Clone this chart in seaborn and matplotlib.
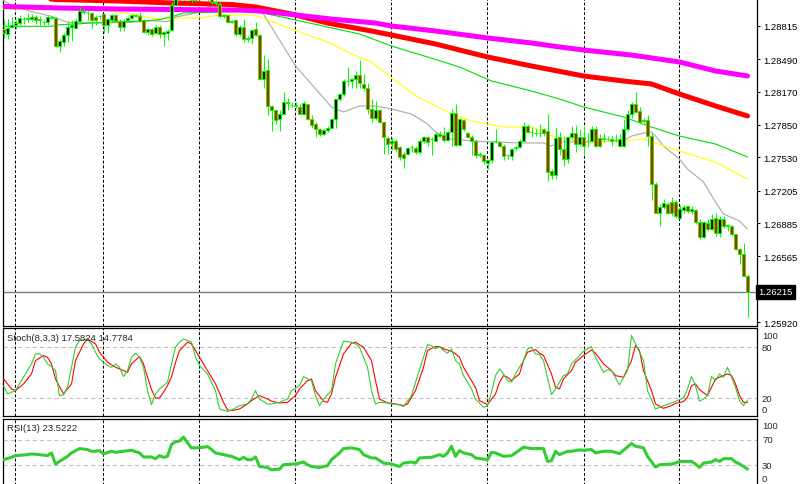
import matplotlib
matplotlib.use("Agg")
import matplotlib.pyplot as plt
import matplotlib.transforms as mtransforms
import numpy as np
import pandas as pd
import seaborn as sns

# ---------------- data ----------------
open_ = [1.2879,1.2874,1.2881,1.2882,1.2884,1.2888,1.2888,1.2888,1.2890,1.2887,
         1.2885,1.2885,1.2890,1.2889,1.2862,1.2866,1.2873,1.2881,1.2880,1.2886,
         1.2895,1.2895,1.2894,1.2890,1.2891,1.2893,1.2882,1.2887,1.2892,1.2886,
         1.2881,1.2887,1.2889,1.2892,1.2891,1.2887,1.2876,1.2879,1.2875,1.2881,
         1.2874,1.2875,1.2878,1.2902,1.2910,1.2912,1.2910,1.2908,1.2907,1.2909,
         1.2911,1.2910,1.2908,1.2905,1.2903,1.2891,1.2892,1.2885,1.2887,1.2874,
         1.2881,1.2869,1.2870,1.2879,1.2873,1.2830,1.2838,1.2803,1.2799,1.2791,
         1.2795,1.2807,1.2804,1.2804,1.2802,1.2795,1.2805,1.2791,1.2786,1.2781,
         1.2776,1.2780,1.2782,1.2791,1.2810,1.2815,1.2828,1.2828,1.2830,1.2834,
         1.2825,1.2821,1.2800,1.2792,1.2799,1.2788,1.2772,1.2767,1.2769,1.2763,
         1.2756,1.2756,1.2763,1.2762,1.2758,1.2769,1.2773,1.2771,1.2769,1.2776,
         1.2775,1.2770,1.2778,1.2796,1.2765,1.2790,1.2777,1.2773,1.2769,1.2755,
         1.2755,1.2748,1.2750,1.2769,1.2768,1.2764,1.2755,1.2754,1.2762,1.2763,
         1.2769,1.2784,1.2778,1.2777,1.2777,1.2781,1.2779,1.2740,1.2736,1.2773,
         1.2761,1.2751,1.2773,1.2777,1.2766,1.2773,1.2769,1.2769,1.2781,1.2772,
         1.2771,1.2771,1.2771,1.2770,1.2764,1.2764,1.2781,1.2795,1.2805,1.2798,
         1.2789,1.2790,1.2774,1.2727,1.2699,1.2704,1.2707,1.2709,1.2709,1.2694,
         1.2702,1.2705,1.2701,1.2702,1.2690,1.2675,1.2689,1.2683,1.2694,1.2679,
         1.2693,1.2686,1.2686,1.2678,1.2663,1.2659,1.2637]
high_ = [1.2887,1.2888,1.2890,1.2887,1.2892,1.2890,1.2894,1.2893,1.2892,1.2891,
         1.2887,1.2892,1.2891,1.2890,1.2869,1.2875,1.2886,1.2887,1.2888,1.2900,
         1.2898,1.2896,1.2895,1.2892,1.2892,1.2894,1.2889,1.2893,1.2893,1.2888,
         1.2888,1.2890,1.2893,1.2893,1.2895,1.2888,1.2880,1.2880,1.2882,1.2882,
         1.2877,1.2879,1.2905,1.2913,1.2916,1.2915,1.2912,1.2911,1.2912,1.2914,
         1.2913,1.2912,1.2910,1.2907,1.2906,1.2893,1.2892,1.2887,1.2888,1.2882,
         1.2888,1.2872,1.2879,1.2885,1.2874,1.2853,1.2849,1.2804,1.2799,1.2799,
         1.2817,1.2811,1.2807,1.2807,1.2805,1.2808,1.2805,1.2794,1.2788,1.2782,
         1.2781,1.2784,1.2792,1.2810,1.2816,1.2830,1.2841,1.2831,1.2837,1.2848,
         1.2835,1.2826,1.2810,1.2808,1.2800,1.2789,1.2774,1.2773,1.2771,1.2764,
         1.2758,1.2763,1.2765,1.2764,1.2771,1.2774,1.2774,1.2773,1.2778,1.2779,
         1.2783,1.2779,1.2800,1.2805,1.2792,1.2791,1.2778,1.2775,1.2771,1.2758,
         1.2756,1.2751,1.2769,1.2781,1.2769,1.2766,1.2756,1.2762,1.2764,1.2771,
         1.2788,1.2786,1.2783,1.2781,1.2786,1.2782,1.2795,1.2742,1.2782,1.2778,
         1.2774,1.2774,1.2784,1.2785,1.2781,1.2784,1.2777,1.2784,1.2784,1.2776,
         1.2777,1.2774,1.2774,1.2776,1.2776,1.2791,1.2799,1.2807,1.2817,1.2802,
         1.2792,1.2794,1.2777,1.2729,1.2707,1.2712,1.2709,1.2714,1.2711,1.2706,
         1.2706,1.2706,1.2705,1.2703,1.2693,1.2691,1.2693,1.2698,1.2699,1.2696,
         1.2696,1.2688,1.2687,1.2678,1.2664,1.2669,1.2639]
low_ = [1.2870,1.2869,1.2880,1.2879,1.2882,1.2883,1.2885,1.2886,1.2883,1.2882,
        1.2882,1.2882,1.2888,1.2861,1.2856,1.2862,1.2866,1.2867,1.2879,1.2883,
        1.2893,1.2887,1.2880,1.2882,1.2888,1.2875,1.2875,1.2885,1.2885,1.2877,
        1.2877,1.2885,1.2888,1.2890,1.2885,1.2875,1.2873,1.2872,1.2874,1.2870,
        1.2862,1.2868,1.2877,1.2901,1.2906,1.2907,1.2906,1.2905,1.2906,1.2907,
        1.2908,1.2906,1.2903,1.2902,1.2889,1.2889,1.2884,1.2884,1.2872,1.2872,
        1.2866,1.2866,1.2864,1.2872,1.2829,1.2821,1.2794,1.2779,1.2786,1.2779,
        1.2794,1.2799,1.2802,1.2801,1.2795,1.2794,1.2790,1.2782,1.2773,1.2774,
        1.2775,1.2778,1.2781,1.2782,1.2808,1.2813,1.2823,1.2821,1.2821,1.2821,
        1.2818,1.2795,1.2788,1.2790,1.2787,1.2756,1.2756,1.2760,1.2758,1.2750,
        1.2743,1.2755,1.2758,1.2756,1.2756,1.2767,1.2764,1.2755,1.2768,1.2773,
        1.2768,1.2769,1.2764,1.2764,1.2764,1.2779,1.2772,1.2755,1.2752,1.2753,
        1.2747,1.2742,1.2748,1.2767,1.2763,1.2750,1.2751,1.2750,1.2760,1.2762,
        1.2769,1.2777,1.2773,1.2774,1.2773,1.2774,1.2730,1.2732,1.2732,1.2755,
        1.2745,1.2748,1.2771,1.2758,1.2764,1.2755,1.2763,1.2768,1.2763,1.2763,
        1.2768,1.2769,1.2764,1.2768,1.2763,1.2763,1.2779,1.2792,1.2797,1.2787,
        1.2787,1.2764,1.2711,1.2699,1.2686,1.2703,1.2698,1.2696,1.2694,1.2693,
        1.2699,1.2699,1.2698,1.2688,1.2673,1.2674,1.2681,1.2682,1.2676,1.2675,
        1.2684,1.2681,1.2676,1.2662,1.2649,1.2637,1.2597]
close_ = [1.2875,1.2880,1.2882,1.2884,1.2889,1.2888,1.2889,1.2890,1.2887,1.2888,
          1.2885,1.2890,1.2889,1.2862,1.2867,1.2873,1.2881,1.2882,1.2886,1.2896,
          1.2896,1.2895,1.2887,1.2887,1.2891,1.2882,1.2888,1.2892,1.2886,1.2881,
          1.2886,1.2889,1.2892,1.2891,1.2886,1.2876,1.2879,1.2874,1.2881,1.2874,
          1.2876,1.2877,1.2902,1.2910,1.2912,1.2910,1.2908,1.2907,1.2909,1.2911,
          1.2910,1.2908,1.2905,1.2904,1.2891,1.2892,1.2885,1.2886,1.2874,1.2881,
          1.2869,1.2870,1.2878,1.2873,1.2830,1.2837,1.2803,1.2799,1.2790,1.2795,
          1.2807,1.2806,1.2804,1.2803,1.2795,1.2806,1.2791,1.2785,1.2781,1.2776,
          1.2780,1.2782,1.2791,1.2810,1.2815,1.2828,1.2828,1.2830,1.2834,1.2826,
          1.2821,1.2800,1.2792,1.2799,1.2788,1.2773,1.2766,1.2769,1.2761,1.2753,
          1.2752,1.2762,1.2763,1.2758,1.2769,1.2773,1.2768,1.2771,1.2776,1.2774,
          1.2770,1.2778,1.2796,1.2765,1.2791,1.2781,1.2773,1.2769,1.2755,1.2756,
          1.2749,1.2750,1.2768,1.2769,1.2764,1.2754,1.2755,1.2761,1.2763,1.2769,
          1.2784,1.2778,1.2778,1.2777,1.2777,1.2777,1.2739,1.2736,1.2772,1.2761,
          1.2751,1.2773,1.2777,1.2766,1.2773,1.2764,1.2769,1.2781,1.2764,1.2764,
          1.2772,1.2771,1.2769,1.2770,1.2771,1.2781,1.2795,1.2805,1.2797,1.2788,
          1.2790,1.2774,1.2727,1.2699,1.2704,1.2708,1.2699,1.2699,1.2696,1.2703,
          1.2704,1.2701,1.2703,1.2690,1.2675,1.2690,1.2683,1.2693,1.2679,1.2693,
          1.2686,1.2687,1.2678,1.2663,1.2659,1.2637,1.26215]

# moving averages (read at selected candles)
ma_magenta_idx = [0,14,29,44,59,64,73,82,93,97,108,121,132,139,145,157,169,178,186]
ma_magenta_val = [1.29006,1.28991,1.28981,1.28976,1.28971,1.28962,1.28923,1.28883,1.28844,1.28815,
                  1.28766,1.28698,1.28649,1.28610,1.28580,1.28531,1.28463,1.28375,1.28326]
ma_red_idx = [0,13,29,42,57,63,72,81,92,97,108,121,132,145,155,162,169,178,186]
ma_red_val = [1.29128,1.29074,1.29059,1.29040,1.29025,1.29001,1.28932,1.28844,1.28766,1.28727,
              1.28639,1.28512,1.28424,1.28326,1.28277,1.28248,1.28150,1.28033,1.27935]
ma_green_idx = [0,12,13,18,24,35,39,43,45,54,63,72,81,89,97,106,114,122,132,139,145,155,162,169,178,186]
ma_green_val = [1.28812,1.28812,1.28825,1.28835,1.28849,1.28864,1.28877,1.28916,1.28942,1.28952,
                1.28957,1.28883,1.28805,1.28737,1.28619,1.28512,1.28414,1.28277,1.28179,1.28101,
                1.28023,1.27925,1.27827,1.27739,1.27661,1.27534]
ma_yellow_idx = [0,8,12,14,18,24,28,32,35,39,45,49,54,62,64,72,81,87,92,97,104,112,117,125,132,
                 139,146,155,160,163,169,178,186]
ma_yellow_val = [1.28981,1.28981,1.28996,1.29001,1.28981,1.28971,1.28952,1.28937,1.28903,1.28883,
                 1.28893,1.28893,1.28923,1.28923,1.28903,1.28786,1.28658,1.28541,1.28463,1.28306,
                 1.28111,1.27954,1.27886,1.27827,1.27827,1.27710,1.27681,1.27690,1.27710,1.27671,
                 1.27592,1.27485,1.27319]
ma_gray_idx = [0,2,7,12,16,24,32,37,41,43,47,49,52,57,64,65,73,82,85,89,93,97,102,106,108,112,117,
               129,135,137,139,146,155,157,160,162,163,165,169,171,175,178,180,184,186]
ma_gray_val = [1.29062,1.29020,1.28955,1.28910,1.28851,1.28844,1.28851,1.28867,1.28857,1.28903,
               1.28932,1.28962,1.29011,1.29011,1.28981,1.28932,1.28424,1.28023,1.27974,1.28033,
               1.28033,1.28003,1.27954,1.27857,1.27778,1.27710,1.27690,1.27671,1.27671,1.27641,
               1.27681,1.27681,1.27690,1.27739,1.27768,1.27778,1.27739,1.27641,1.27514,1.27416,
               1.27289,1.27094,1.26976,1.26908,1.26829]

# Stochastic (8,3,3)
stoch_k_idx = [0,1,3,5,7,8,9,10,11,12,13,14,15,16,17,18,19,21,22,23,24,26,27,28,29,30,31,32,33,34,
               35,36,37,38,39,41,42,43,44,45,47,48,49,51,53,54,56,57,59,61,62,63,64,66,67,69,71,72,74,75,
               77,78,79,80,82,83,85,87,88,89,91,92,93,94,96,97,99,100,102,103,105,106,107,108,109,110,111,112,113,114,
               115,117,118,120,121,122,123,124,125,126,127,128,130,131,132,133,134,135,137,138,140,141,142,144,145,147,148,150,151,152,
               154,156,157,158,160,161,163,165,167,168,170,171,172,173,174,175,176,177,178,179,180,181,182,183,184,185,186]
stoch_k_val = [34.7,24.9,28.8,44.6,60.4,72.2,72.2,68.2,60.4,57.2,52.5,22.9,23.7,32.7,56.4,80.1,88,89.9,84,74.2,
               66.3,58.4,56.4,60.4,56.4,45.4,52.5,68.2,73,68.2,56.4,28.8,12.2,24.9,30.8,38.7,60,80,86,89.9,
               86,68.2,58.4,48.5,28.8,7.1,4.3,5.9,11,13,18.9,28.8,18.9,13,13,15,18.9,28.8,34.7,45.4,
               40.6,22.9,11,18.9,28.8,60.4,87.2,86,84,80.1,56.4,28.8,13,15,14.2,13,12,9.9,22.9,38.7,
               68.2,83.2,82,78.1,80.9,76.1,73,78.1,64.3,60.4,46.5,30.8,18.9,9.1,11,26.8,46.5,54.4,48.5,40.6,
               38.7,48.5,64.3,78.1,80.1,72.2,71.4,64.3,24.1,30.8,46.5,48.5,60.4,70.2,75.3,80.9,68.2,50.5,53.3,52.5,
               35.5,52.5,93.9,84,64.3,28.8,7.1,11,14.2,16.2,20.1,30.8,45.4,34.7,16.2,18.9,22.9,45.4,40.6,48.5,
               44.6,56.4,44.6,32.7,17,11,17.5824]
stoch_d_idx = [0,2,3,5,7,8,10,11,12,13,15,17,18,20,21,23,24,26,28,29,31,32,34,35,36,37,38,39,40,41,
               42,43,44,46,47,49,51,53,55,56,57,59,61,62,64,66,67,69,71,73,74,76,77,78,80,81,82,83,85,87,
               88,90,92,93,94,96,97,99,100,101,103,105,106,108,109,110,112,113,114,115,116,118,119,121,123,124,125,126,127,129,
               130,131,133,134,135,137,138,139,140,142,143,145,147,148,150,152,153,155,157,158,159,160,162,163,165,167,168,170,171,172,
               173,174,176,177,178,180,181,182,183,184,185,186]
stoch_d_val = [42.6,30.8,28.8,36.7,48.5,64.3,70.2,68.2,60.4,42.6,24.9,36.7,64.3,84,89.9,84,74.2,62.3,56.4,54.4,
               50.5,60.4,69,60.4,44.6,30,20,20.1,26.8,34.7,45,62,76.1,86,84,68.2,52.5,36.7,15,5.9,
               5.1,7.1,13,17,22.9,18.9,16.2,14.2,15,22.9,30.8,40.6,42.6,28.8,16.2,15,24.9,44.6,72.2,84.8,
               86,80.1,64.3,40.6,18.9,14.2,13.8,12.2,11,13,28.8,56.4,76.1,80.9,80.9,78.1,75.3,72.2,68.2,56.4,
               48.5,32.7,17,12.2,24.9,38.7,46.5,44.6,40.6,48.5,64.3,74.2,77.3,73,70.2,48.5,32.7,30.8,42.6,52.5,
               62.3,70.2,76.9,73,60.4,52.5,46.5,44.6,64.3,82,76.1,52.5,28.8,13,7.9,11,13.8,15.8,20.9,34.7,
               36.7,30,22.9,32.7,42.6,46.5,48.5,46.5,36.7,22.9,15,14.7784]

# RSI (13)
rsi_idx = [0,2,3,6,7,9,11,12,13,14,16,17,19,21,22,23,24,25,27,28,30,32,34,35,37,38,39,40,41,42,
           43,44,45,46,47,48,50,51,52,53,55,57,59,60,61,62,63,64,66,67,69,70,72,73,75,76,77,79,81,82,
           84,85,87,89,90,92,93,95,97,99,100,102,103,104,106,107,109,110,111,112,113,114,115,117,118,121,122,123,125,127,
           128,130,132,135,136,137,138,139,141,142,144,145,147,148,150,152,154,155,157,158,160,161,163,164,167,168,169,172,173,174,
           175,177,178,179,180,182,183,184,185,186]
rsi_val = [38.4,42.1,44.8,46.4,47.5,46.4,44.8,49.1,31.5,35.7,43.7,49.1,56,54.4,51.7,51.7,52.8,47.5,51.7,50.1,
           51.7,53.3,49.1,42.7,42.7,40,44.8,42.1,43.7,62.4,66.7,67.7,74.1,65.1,57.1,57.1,58.1,59.2,54.4,49.1,
           46.4,43.7,38.4,42.1,38.4,38.4,42.7,27.7,26.1,22.4,23.5,30.4,31.5,31.5,34.7,30.4,27.7,26.1,28.8,38.4,
           49.1,56,57.1,54.4,46.4,41.1,41.1,33.1,31.5,27.7,33.1,34.7,33.1,41.1,42.1,42.1,46.4,43.7,49.1,59.7,
           43.7,52.8,49.1,46.4,41.1,38.4,50.1,49.1,43.7,44.8,49.1,58.1,56,56,35.7,36.8,51.7,46.4,51.7,51.7,
           53.9,53.3,54.4,49.1,51.7,51.7,48,53.3,64,59.7,57.1,43.7,26.7,30.4,31.5,33.1,35.7,35.7,31.5,26.1,
           33.1,34.7,38.4,35.7,40,40,34.7,31.5,28,23.5222]

session_breaks = [2.875, 24.875, 48.875, 72.875, 96.875, 120.875, 145.0, 168.875]
price_ticks = [1.28815, 1.28490, 1.28170, 1.27850, 1.27530, 1.27205, 1.26885, 1.26565, 1.25920]
last_price = 1.26215
stoch_label = "Stoch(8,3,3) 17.5824 14.7784"
rsi_label = "RSI(13) 23.5222"

assert len(open_) == len(high_) == len(low_) == len(close_)
assert len(stoch_k_idx) == len(stoch_k_val)
assert len(stoch_d_idx) == len(stoch_d_val)
assert len(rsi_idx) == len(rsi_val)

# ---------------- figure ----------------
sns.set_style("white")
plt.rcParams['font.family'] = ['Liberation Sans', 'DejaVu Sans']
FS = 6.8

W, H = 800, 485
fig = plt.figure(figsize=(W / 100, H / 100), dpi=100)
fig.patch.set_facecolor("white")

def px_axes(x0, y0, x1, y1):
    return fig.add_axes([x0 / W, 1 - y1 / H, (x1 - x0) / W, (y1 - y0) / H])

ax = px_axes(3, 0, 757, 327)
ax_st = px_axes(3, 329, 757, 417)
ax_rsi = px_axes(3, 419.5, 757, 486)

n = len(close_)
xlim = (-0.125, 188.375)
df = pd.DataFrame({"i": np.arange(n), "o": open_, "h": high_, "l": low_, "c": close_})

for a in (ax, ax_st, ax_rsi):
    a.set_xlim(*xlim)
    a.set_facecolor("white")
    a.set_xticks([])
    for s in a.spines.values():
        s.set_color("black")
        s.set_linewidth(0.9)
    for b in session_breaks:
        a.axvline(b, color="black", lw=0.75, ls=(0, (2.8, 1.8)), zorder=1)

# ---- main panel ----
ax.set_ylim(1.25881, 1.29079)
ax.spines["top"].set_visible(False)
ax.axhline(last_price, color="#6f8090", lw=1.0, zorder=2)

line_specs = [
    (ma_gray_idx, ma_gray_val, "#a9a9a9", 0.8),
    (ma_yellow_idx, ma_yellow_val, "#ffff00", 0.8),
    (ma_green_idx, ma_green_val, "#00e000", 0.8),
    (ma_red_idx, ma_red_val, "#ff0000", 3.6),
    (ma_magenta_idx, ma_magenta_val, "#ff00ff", 3.6),
]
for idx, val, col, lw in line_specs:
    sns.lineplot(x=idx, y=val, ax=ax, color=col, linewidth=lw, sort=False,
                 estimator=None, legend=False, zorder=3)

# candles
ax.vlines(df["i"], df["l"], df["h"], color="#00ff00", lw=0.75, zorder=4)
bull = df["c"] >= df["o"]
fills = np.where(bull, "black", "#ff0000")
ax.bar(df["i"], df["c"] - df["o"], bottom=df["o"], width=0.56, color=fills,
       edgecolor="#00ff00", linewidth=0.75, zorder=5)

ax.yaxis.tick_right()
ax.set_yticks(price_ticks)
ax.set_yticklabels([f"{t:.5f}" for t in price_ticks], fontsize=FS)
ax.tick_params(axis="y", length=2.2, width=0.75, pad=2.2, colors="black")
ax.set_ylabel("")
ax.set_xlabel("")

# current price box
ax.text(1.0015, last_price, f"{last_price:.5f}", transform=ax.get_yaxis_transform(),
        fontsize=FS, color="white", va="center", ha="left", zorder=10, clip_on=False,
        bbox=dict(boxstyle="square,pad=0.25", fc="black", ec="black"))

# ---- stochastic panel ----
ax_st.set_ylim(-1.2, 102.8)
for lvl in (80, 20):
    ax_st.axhline(lvl, color="#c0c0c0", lw=0.75, ls=(0, (4, 3)), zorder=1)
sns.lineplot(x=stoch_d_idx, y=stoch_d_val, ax=ax_st, color="#ff0000", linewidth=0.8,
             sort=False, estimator=None, legend=False, zorder=3)
sns.lineplot(x=stoch_k_idx, y=stoch_k_val, ax=ax_st, color="#32cd32", linewidth=0.8,
             sort=False, estimator=None, legend=False, zorder=3)
ax_st.set_yticks([])
ax_st.set_ylabel("")
ax_st.text(0.0055, 0.895, stoch_label, transform=ax_st.transAxes, fontsize=FS,
           va="center", ha="left")
tr = ax_st.get_yaxis_transform()
for lab, yv in (("100", 93.7), ("80", 80), ("20", 20), ("0", 5.9)):
    ax_st.text(1.0066, yv, lab, transform=tr, fontsize=FS, va="center", ha="left", clip_on=False)

# ---- RSI panel ----
ax_rsi.set_ylim(-1.6, 103.5)
ax_rsi.spines["bottom"].set_visible(False)
for lvl in (70, 30):
    ax_rsi.axhline(lvl, color="#c0c0c0", lw=0.75, ls=(0, (4, 3)), zorder=1)
sns.lineplot(x=rsi_idx, y=rsi_val, ax=ax_rsi, color="#32cd32", linewidth=2.2,
             sort=False, estimator=None, legend=False, zorder=3)
ax_rsi.set_yticks([])
ax_rsi.set_ylabel("")
ax_rsi.text(0.0055, 0.87, rsi_label, transform=ax_rsi.transAxes, fontsize=FS,
            va="center", ha="left")
tr = ax_rsi.get_yaxis_transform()
for lab, yv in (("100", 92.8), ("70", 70), ("30", 30), ("0", 9.1)):
    ax_rsi.text(1.0066, yv, lab, transform=tr, fontsize=FS, va="center", ha="left", clip_on=False)

fig.savefig("out.png", dpi=100, facecolor="white")
